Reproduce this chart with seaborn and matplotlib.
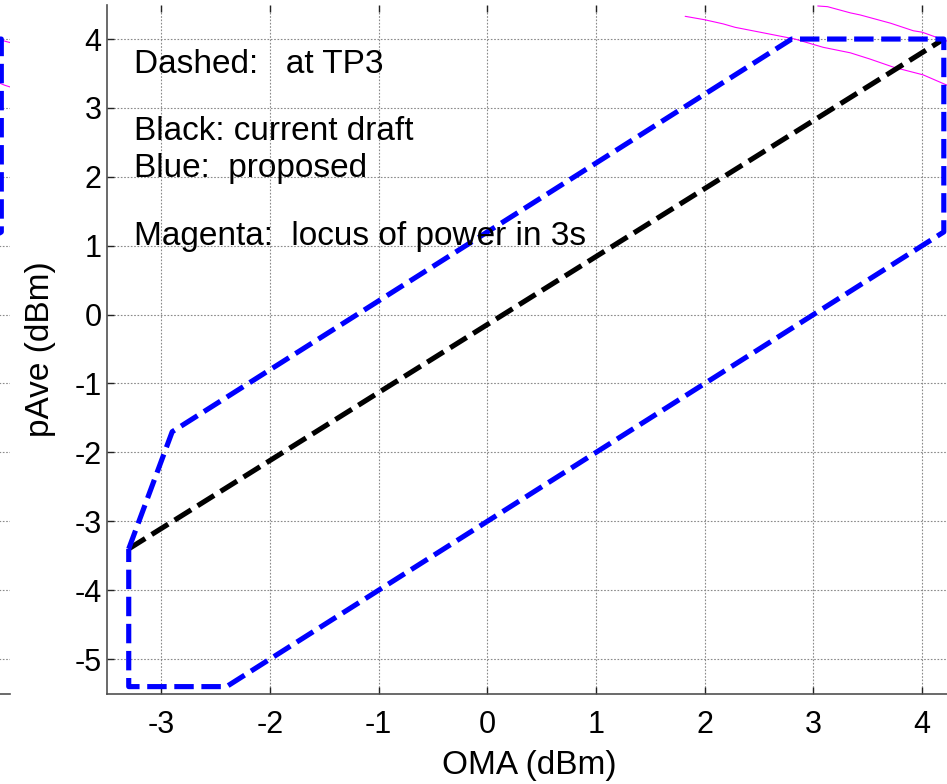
import numpy as np
import pandas as pd
import matplotlib
matplotlib.use("Agg")
import matplotlib.pyplot as plt
import seaborn as sns

# ---- data -------------------------------------------------------------
# proposed mask (blue polygon), OMA (dBm) vs pAve (dBm)
blue_oma = [-3.3, -2.9, 2.8, 4.2, 4.2, -2.4, -3.3, -3.3]
blue_pave = [-3.4, -1.7, 4.0, 4.0, 1.2, -5.4, -5.4, -3.4]
# current draft (black line)
black_oma = [-3.3, 4.2]
black_pave = [-3.4, 4.0]
# magenta loci of power in 3s
mag1_oma = [1.82, 2.00, 2.17, 2.28, 2.54, 2.83, 3.09, 3.34, 3.52, 3.74, 4.01, 4.23, 4.35]
mag1_pave = [4.33, 4.28, 4.22, 4.17, 4.09, 4.00, 3.88, 3.80, 3.71, 3.59, 3.48, 3.33, 3.27]
mag2_oma = [3.04, 3.13, 3.34, 3.43, 3.71, 3.92, 4.00, 4.23, 4.35]
mag2_pave = [4.48, 4.47, 4.38, 4.35, 4.23, 4.12, 4.10, 3.97, 3.92]

x_ticks = [-3, -2, -1, 0, 1, 2, 3, 4]
y_ticks = [-5, -4, -3, -2, -1, 0, 1, 2, 3, 4]
notes = ["Dashed:   at TP3", "Black: current draft", "Blue:  proposed",
         "Magenta:  locus of power in 3s"]
note_y = [3.51, 2.53, 2.00, 1.01]

# ---- style ------------------------------------------------------------
sns.set_theme(style="white")
plt.rcParams["font.family"] = ["Liberation Sans", "DejaVu Sans"]
plt.rcParams["axes.unicode_minus"] = False
plt.rcParams["lines.scale_dashes"] = False

FS_TICK = 22
FS_TEXT = 24
fig = plt.figure(figsize=(9.47, 7.84), dpi=100)

W = 845.5 / 947
H = 688.9 / 784
B = (784 - 693.5) / 784
ax = fig.add_axes([107 / 947, B, W, H])
ax_left = fig.add_axes([(952 - 942 - 845.5) / 947, B, W, H])


def draw(a, main=True):
    a.set_xlim(-3.5, 4.28)
    a.set_ylim(-5.5, 4.5)
    a.grid(True, color="#8a8a8a", linestyle=(0, (1.2, 1.2)), linewidth=0.8)
    for xs, ys in [(mag1_oma, mag1_pave), (mag2_oma, mag2_pave)]:
        sns.lineplot(x=xs, y=ys, sort=False, estimator=None, ax=a,
                     color="#ff00ff", linewidth=0.8)
    sns.lineplot(x=black_oma, y=black_pave, sort=False, estimator=None, ax=a,
                 color="black", linewidth=3.7)
    a.get_lines()[-1].set_dashes((14, 5.5))
    sns.lineplot(x=blue_oma, y=blue_pave, sort=False, estimator=None, ax=a,
                 color="#0000ff", linewidth=3.7)
    a.get_lines()[-1].set_dashes((14, 5.5))
    a.set_xticks(x_ticks)
    a.set_yticks(y_ticks)
    for s in ["top", "right"]:
        a.spines[s].set_visible(False)
    for s in ["left", "bottom"]:
        a.spines[s].set_color("#505050")
        a.spines[s].set_linewidth(1.2)
    if main:
        a.set_xticklabels([str(v) for v in x_ticks])
        a.set_yticklabels([str(v) for v in y_ticks])
        a.tick_params(axis="both", direction="in", length=5, width=1.0,
                      color="#222222", labelsize=FS_TICK, labelcolor="black",
                      top=True, right=False, bottom=True, left=True, pad=4)
        a.tick_params(axis="x", pad=12)
        a.set_xlabel("OMA (dBm)", fontsize=FS_TEXT, color="black", labelpad=7)
        a.set_ylabel("pAve (dBm)", fontsize=FS_TEXT, color="black", labelpad=13)
        for t, yv in zip(notes, note_y):
            a.text(-3.25, yv, t, fontsize=FS_TEXT, va="baseline", ha="left",
                   color="black")
    else:
        a.tick_params(axis="both", which="both", length=0,
                      labelbottom=False, labelleft=False)
        a.set_xlabel("")
        a.set_ylabel("")
        a.spines["left"].set_visible(False)


draw(ax_left, main=False)
draw(ax, main=True)

fig.savefig("out.png", dpi=100)
